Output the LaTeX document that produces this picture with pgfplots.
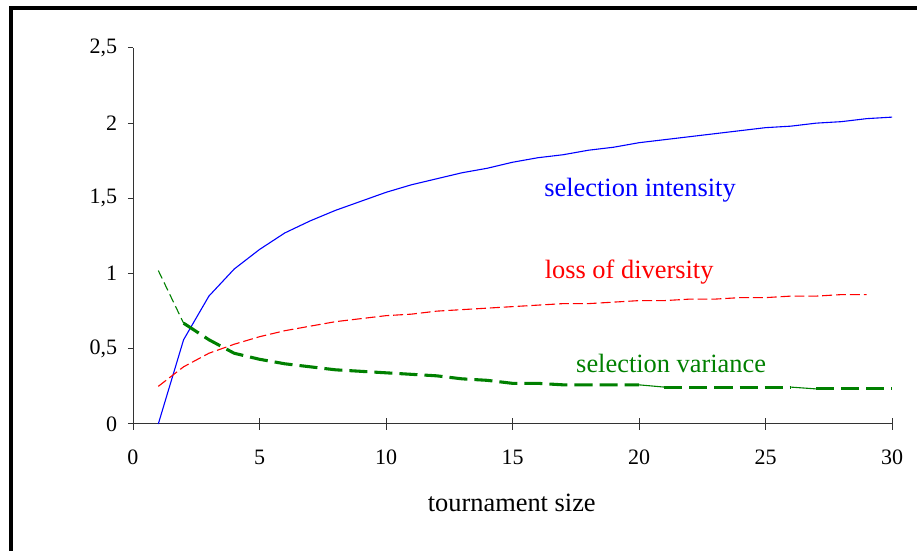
\documentclass[border=0pt]{standalone}
\usepackage{pgfplots}
\pgfplotsset{compat=1.18}
\usepackage{fontspec}
\setmainfont{Liberation Serif}

\definecolor{sigreen}{RGB}{0,128,0}

\begin{document}
\begin{tikzpicture}
% page is 917 x 551 px, 1px = 0.4545pt
\path[use as bounding box] (0,0) rectangle (416.8pt,250.4pt);
\draw[line width=1.8pt] (5.1pt,-2pt) -- (5.1pt,246.7pt) -- (420pt,246.7pt);

\begin{axis}[
	at={(60.45pt,57.7pt)}, anchor=south west,
	scale only axis, width=345pt, height=170.9pt,
	xmin=0, xmax=30, ymin=0, ymax=2.5,
	axis lines*=left,
	axis line style={draw=black!80, line width=0.45pt},
	xtick={0,5,...,30}, ytick={0,0.5,...,2.5},
	xtick align=center, ytick align=outside,
	major tick length=5.45pt,
	ytick style={/pgfplots/major tick length=2.3pt},
	tick style={draw=black!80, line width=0.45pt},
	/pgf/number format/assume math mode=true,
	/pgf/number format/use comma,
	ticklabel style={font=\fontsize{10}{12}\selectfont},
	xticklabel style={yshift=-5.5pt},
	yticklabel style={xshift=1.8pt},
	clip=false,
	no markers,
]

% selection intensity
\addplot[blue, line width=0.5pt] coordinates {
	(1,0) (2,0.56) (3,0.85) (4,1.03) (5,1.16) (6,1.27) (7,1.35) (8,1.42)
	(9,1.48) (10,1.54) (11,1.59) (12,1.63) (13,1.67) (14,1.70) (15,1.74)
	(16,1.77) (17,1.79) (18,1.82) (19,1.84) (20,1.87) (21,1.89) (22,1.91)
	(23,1.93) (24,1.95) (25,1.97) (26,1.98) (27,2.00) (28,2.01) (29,2.03) (30,2.04)
};

% loss of diversity
\addplot[red, line width=0.5pt, dash pattern=on 4.5pt off 1.8pt] coordinates {
	(1,0.25) (2,0.38) (3,0.47) (4,0.53) (5,0.58) (6,0.62) (7,0.65) (8,0.68)
	(9,0.70) (10,0.72) (11,0.73) (12,0.75) (13,0.76) (14,0.77) (15,0.78)
	(16,0.79) (17,0.80) (18,0.80) (19,0.81) (20,0.82) (21,0.82) (22,0.83)
	(23,0.83) (24,0.84) (25,0.84) (26,0.85) (27,0.85) (28,0.86) (29,0.86)
};

% selection variance
\addplot[sigreen, line width=0.5pt, dash pattern=on 4pt off 2pt] coordinates {
	(1,1.02) (2,0.67)
};
\addplot[sigreen, line width=1.4pt, dash pattern=on 8.2pt off 3.2pt] coordinates {
	(2,0.67) (3,0.56) (4,0.47) (5,0.43) (6,0.40) (7,0.38) (8,0.36) (9,0.35)
	(10,0.34) (11,0.33) (12,0.32) (13,0.30) (14,0.29) (15,0.27) (16,0.27)
	(17,0.26) (18,0.26) (19,0.26) (20,0.26)
};
\addplot[sigreen, line width=0.5pt] coordinates {
	(20,0.26) (21,0.245)
};
\addplot[sigreen, line width=1.4pt, dash pattern=on 8.2pt off 3.2pt] coordinates {
	(21,0.245) (22,0.245) (23,0.245) (24,0.245) (25,0.245) (26,0.245)
};
\addplot[sigreen, line width=0.5pt] coordinates {
	(26,0.245) (27,0.233)
};
\addplot[sigreen, line width=1.4pt, dash pattern=on 8.2pt off 3.2pt] coordinates {
	(27,0.233) (28,0.233) (29,0.233) (30,0.233)
};

\node[anchor=base, text=blue, font=\fontsize{12}{14}\selectfont] at (axis cs:20.04,1.511) {selection intensity};
\node[anchor=base, text=red, font=\fontsize{12}{14}\selectfont] at (axis cs:19.61,0.969) {loss of diversity};
\node[anchor=base, text=sigreen, font=\fontsize{12}{14}\selectfont] at (axis cs:21.27,0.341) {selection variance};
\node[anchor=base, font=\fontsize{12}{14}\selectfont] at (axis cs:14.97,-0.585) {tournament size};
\end{axis}
\end{tikzpicture}
\end{document}
